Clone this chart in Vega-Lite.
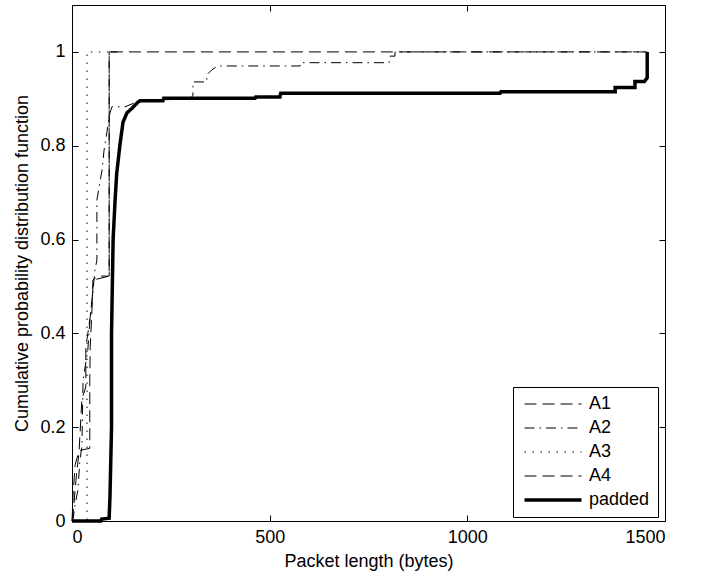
{
  "$schema": "https://vega.github.io/schema/vega-lite/v6.json",
  "width": 593,
  "height": 516,
  "autosize": {"type": "none"},
  "padding": {"left": 72, "top": 5, "right": 49, "bottom": 54},
  "background": "white",
  "config": {
    "font": "Liberation Sans",
    "view": {"stroke": "black", "strokeWidth": 1},
    "axis": {
      "domain": false,
      "grid": false,
      "tickColor": "black",
      "tickSize": -6,
      "tickWidth": 1,
      "labelColor": "black",
      "labelFont": "Liberation Sans",
      "labelFontSize": 18,
      "labelPadding": 13,
      "titleColor": "black",
      "titleFont": "Liberation Sans",
      "titleFontSize": 18,
      "titleFontWeight": "normal"
    }
  },
  "data": {
    "values": [
      {"series": "A1", "i": 0, "x": 0, "y": 0},
      {"series": "A1", "i": 1, "x": 3, "y": 0.06},
      {"series": "A1", "i": 2, "x": 8, "y": 0.12},
      {"series": "A1", "i": 3, "x": 18, "y": 0.15},
      {"series": "A1", "i": 4, "x": 45, "y": 0.155},
      {"series": "A1", "i": 5, "x": 45, "y": 0.3},
      {"series": "A1", "i": 6, "x": 46, "y": 0.37},
      {"series": "A1", "i": 7, "x": 50, "y": 0.44},
      {"series": "A1", "i": 8, "x": 53, "y": 0.5},
      {"series": "A1", "i": 9, "x": 60, "y": 0.515},
      {"series": "A1", "i": 10, "x": 94, "y": 0.522},
      {"series": "A1", "i": 11, "x": 94, "y": 1},
      {"series": "A1", "i": 12, "x": 120, "y": 1},

      {"series": "A2", "i": 0, "x": 0, "y": 0},
      {"series": "A2", "i": 1, "x": 2.5, "y": 0.002},
      {"series": "A2", "i": 2, "x": 7.6, "y": 0.034},
      {"series": "A2", "i": 3, "x": 15, "y": 0.066},
      {"series": "A2", "i": 4, "x": 20, "y": 0.13},
      {"series": "A2", "i": 5, "x": 25, "y": 0.158},
      {"series": "A2", "i": 6, "x": 28, "y": 0.3},
      {"series": "A2", "i": 7, "x": 40, "y": 0.365},
      {"series": "A2", "i": 8, "x": 46, "y": 0.435},
      {"series": "A2", "i": 9, "x": 53, "y": 0.49},
      {"series": "A2", "i": 10, "x": 58, "y": 0.535},
      {"series": "A2", "i": 11, "x": 63, "y": 0.556},
      {"series": "A2", "i": 12, "x": 63, "y": 0.684},
      {"series": "A2", "i": 13, "x": 76, "y": 0.748},
      {"series": "A2", "i": 14, "x": 81, "y": 0.79},
      {"series": "A2", "i": 15, "x": 96, "y": 0.87},
      {"series": "A2", "i": 16, "x": 101, "y": 0.883},
      {"series": "A2", "i": 17, "x": 134, "y": 0.883},
      {"series": "A2", "i": 18, "x": 172, "y": 0.896},
      {"series": "A2", "i": 19, "x": 300, "y": 0.9},
      {"series": "A2", "i": 20, "x": 306, "y": 0.908},
      {"series": "A2", "i": 21, "x": 306, "y": 0.936},
      {"series": "A2", "i": 22, "x": 341, "y": 0.936},
      {"series": "A2", "i": 23, "x": 341, "y": 0.951},
      {"series": "A2", "i": 24, "x": 354, "y": 0.962},
      {"series": "A2", "i": 25, "x": 369, "y": 0.97},
      {"series": "A2", "i": 26, "x": 577, "y": 0.97},
      {"series": "A2", "i": 27, "x": 577, "y": 0.977},
      {"series": "A2", "i": 28, "x": 802, "y": 0.977},
      {"series": "A2", "i": 29, "x": 804, "y": 0.991},
      {"series": "A2", "i": 30, "x": 817, "y": 0.991},
      {"series": "A2", "i": 31, "x": 817, "y": 1},
      {"series": "A2", "i": 32, "x": 1455, "y": 1},

      {"series": "A3", "i": 0, "x": 0, "y": 0},
      {"series": "A3", "i": 1, "x": 38, "y": 0},
      {"series": "A3", "i": 2, "x": 38, "y": 1},
      {"series": "A3", "i": 3, "x": 100, "y": 1},

      {"series": "A4", "i": 0, "x": 0, "y": 0},
      {"series": "A4", "i": 1, "x": 2.5, "y": 0.013},
      {"series": "A4", "i": 2, "x": 10, "y": 0.087},
      {"series": "A4", "i": 3, "x": 18, "y": 0.15},
      {"series": "A4", "i": 4, "x": 25, "y": 0.26},
      {"series": "A4", "i": 5, "x": 35, "y": 0.286},
      {"series": "A4", "i": 6, "x": 35, "y": 0.37},
      {"series": "A4", "i": 7, "x": 46, "y": 0.435},
      {"series": "A4", "i": 8, "x": 51, "y": 0.47},
      {"series": "A4", "i": 9, "x": 53, "y": 0.514},
      {"series": "A4", "i": 10, "x": 66, "y": 0.522},
      {"series": "A4", "i": 11, "x": 94, "y": 0.522},
      {"series": "A4", "i": 12, "x": 94, "y": 1},
      {"series": "A4", "i": 13, "x": 1455, "y": 1},

      {"series": "padded", "i": 0, "x": 0, "y": 0},
      {"series": "padded", "i": 1, "x": 73, "y": 0},
      {"series": "padded", "i": 2, "x": 75, "y": 0.004},
      {"series": "padded", "i": 3, "x": 94, "y": 0.006},
      {"series": "padded", "i": 4, "x": 96, "y": 0.05},
      {"series": "padded", "i": 5, "x": 100, "y": 0.2},
      {"series": "padded", "i": 6, "x": 100, "y": 0.4},
      {"series": "padded", "i": 7, "x": 104, "y": 0.6},
      {"series": "padded", "i": 8, "x": 109, "y": 0.684},
      {"series": "padded", "i": 9, "x": 113, "y": 0.74},
      {"series": "padded", "i": 10, "x": 121, "y": 0.8},
      {"series": "padded", "i": 11, "x": 129, "y": 0.85},
      {"series": "padded", "i": 12, "x": 139, "y": 0.87},
      {"series": "padded", "i": 13, "x": 152, "y": 0.88},
      {"series": "padded", "i": 14, "x": 167, "y": 0.893},
      {"series": "padded", "i": 15, "x": 172, "y": 0.896},
      {"series": "padded", "i": 16, "x": 230, "y": 0.896},
      {"series": "padded", "i": 17, "x": 232, "y": 0.901},
      {"series": "padded", "i": 18, "x": 463, "y": 0.901},
      {"series": "padded", "i": 19, "x": 465, "y": 0.904},
      {"series": "padded", "i": 20, "x": 526, "y": 0.904},
      {"series": "padded", "i": 21, "x": 528, "y": 0.912},
      {"series": "padded", "i": 22, "x": 1083, "y": 0.912},
      {"series": "padded", "i": 23, "x": 1085, "y": 0.915},
      {"series": "padded", "i": 24, "x": 1374, "y": 0.915},
      {"series": "padded", "i": 25, "x": 1374, "y": 0.924},
      {"series": "padded", "i": 26, "x": 1424, "y": 0.924},
      {"series": "padded", "i": 27, "x": 1424, "y": 0.937},
      {"series": "padded", "i": 28, "x": 1448, "y": 0.937},
      {"series": "padded", "i": 29, "x": 1455, "y": 0.945},
      {"series": "padded", "i": 30, "x": 1455, "y": 1}
    ]
  },
  "layer": [
    {
      "mark": {"type": "line", "color": "black", "strokeCap": "butt", "strokeJoin": "miter"},
      "encoding": {
        "x": {
          "field": "x", "type": "quantitative",
          "scale": {"domain": [0, 1500], "nice": false, "zero": false},
          "axis": {"orient": "bottom", "values": [0, 500, 1000, 1500], "format": "d", "title": "Packet length (bytes)", "titlePadding": 6}
        },
        "y": {
          "field": "y", "type": "quantitative",
          "scale": {"domain": [0, 1.1], "nice": false, "zero": false},
          "axis": {"orient": "left", "values": [0, 0.2, 0.4, 0.6, 0.8, 1], "format": "~g", "title": "Cumulative probability distribution function", "titlePadding": 8}
        },
        "order": {"field": "i", "type": "quantitative"},
        "strokeDash": {
          "field": "series", "type": "nominal",
          "scale": {
            "domain": ["A1", "A2", "A3", "A4", "padded"],
            "range": [[12, 6], [10, 5, 1.5, 5], [1.5, 6.5], [12, 6], [1, 0]]
          },
          "legend": {
            "title": null,
            "orient": "none",
            "legendX": 441,
            "legendY": 382,
            "strokeColor": "black",
            "fillColor": "white",
            "padding": 8,
            "rowPadding": 6,
            "labelFont": "Liberation Sans",
            "labelFontSize": 18,
            "labelColor": "black",
            "labelOffset": 27,
            "symbolOffset": 23,
            "symbolType": "stroke",
            "symbolSize": 3249,
            "symbolStrokeColor": "black",
            "symbolStrokeWidth": 1,
            "encode": {
              "symbols": {
                "update": {
                  "strokeWidth": {"signal": "datum.value === 'padded' ? 3.5 : 1"}
                }
              }
            }
          }
        },
        "strokeWidth": {
          "condition": {"test": "datum.series === 'padded'", "value": 3.5},
          "value": 1
        }
      }
    },
    {
      "mark": {"type": "point", "opacity": 0},
      "encoding": {
        "x": {
          "field": "x", "type": "quantitative",
          "scale": {"domain": [0, 1500], "nice": false, "zero": false},
          "axis": {"orient": "top", "values": [0, 500, 1000, 1500], "labels": false, "title": null}
        },
        "y": {
          "field": "y", "type": "quantitative",
          "scale": {"domain": [0, 1.1], "nice": false, "zero": false},
          "axis": {"orient": "right", "values": [0, 0.2, 0.4, 0.6, 0.8, 1], "labels": false, "title": null}
        }
      }
    }
  ],
  "resolve": {"axis": {"x": "independent", "y": "independent"}}
}
